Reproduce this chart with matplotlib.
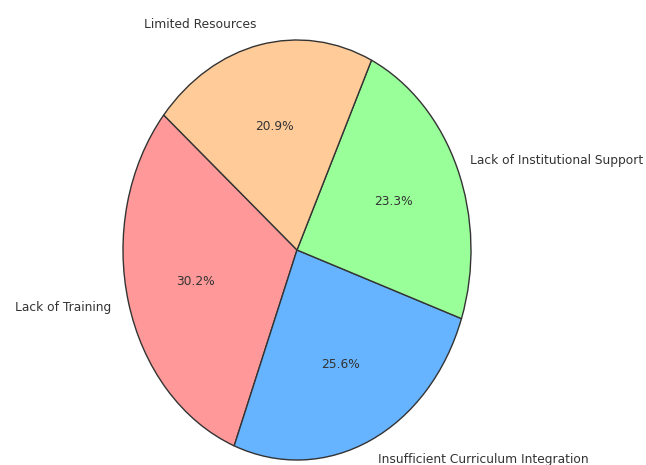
import matplotlib
matplotlib.use("Agg")
import matplotlib.pyplot as plt

labels = ["Lack of Training", "Insufficient Curriculum Integration",
          "Lack of Institutional Support", "Limited Resources"]
counts = [13, 11, 10, 9]
colors = ["#ff9999", "#66b3ff", "#99ff99", "#ffcc99"]

fig = plt.figure(figsize=(6.46, 4.65), dpi=100)
ax = fig.add_axes([0, 0, 1, 1])

wedges, texts, autotexts = ax.pie(
    counts, labels=labels, colors=colors, autopct="%1.1f%%",
    startangle=140, wedgeprops={"edgecolor": "#333333", "linewidth": 1},
    textprops={"fontsize": 8.8, "color": "#333333"})

# pie appears stretched vertically in the reference
ax.set_aspect("auto")
cx, cy, rx, ry = 297, 250, 174, 210
ax.set_xlim(-cx / rx, (646 - cx) / rx)
ax.set_ylim(-(465 - cy) / ry, cy / ry)
ax.axis("off")

# long right-hand label sits right on the edge; nudge it in a touch
t = texts[2]
t.set_x(t.get_position()[0] - 3 / rx)

fig.savefig("out.png", dpi=100)
